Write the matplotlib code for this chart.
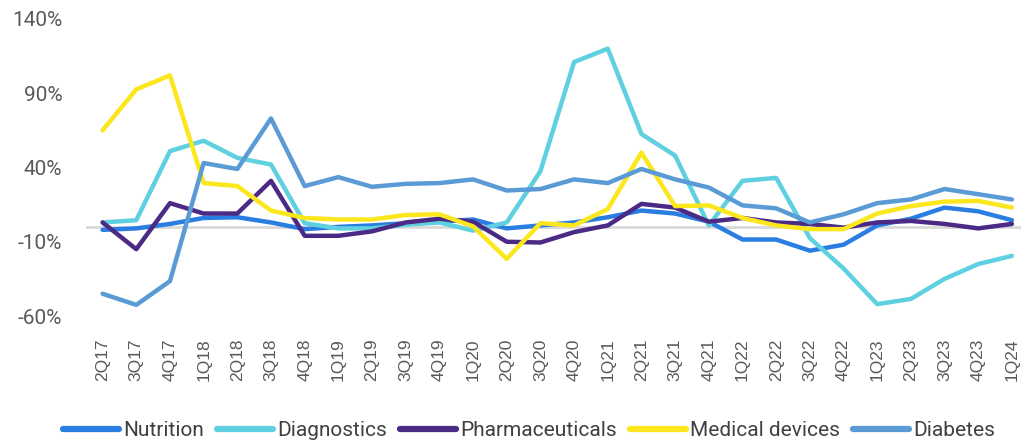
import numpy as np
import matplotlib
matplotlib.use("Agg")
import matplotlib.pyplot as plt

quarters = ['2Q17', '3Q17', '4Q17', '1Q18', '2Q18', '3Q18', '4Q18', '1Q19', '2Q19', '3Q19',
            '4Q19', '1Q20', '2Q20', '3Q20', '4Q20', '1Q21', '2Q21', '3Q21', '4Q21', '1Q22',
            '2Q22', '3Q22', '4Q22', '1Q23', '2Q23', '3Q23', '4Q23', '1Q24']

nutrition = [-2, -1, 2, 6, 6.5, 3, -1.5, 0, 1, 2.5, 3.5, 5, -1, 1, 3, 6.5, 11, 9, 3.5,
             -8.5, -8.5, -16, -12, 1, 5.5, 13, 10.5, 4.5]
diagnostics = [3, 4.5, 51, 58, 46.5, 42, 2.5, -1, -1, 1.5, 3, -2.5, 3, 37.5, 111, 120,
               62.5, 48, 1, 31, 33, -7.5, -28, -52, -48.5, -35, -25, -19.5]
pharmaceuticals = [3, -15, 16, 9, 9, 31, -6, -6, -3, 3, 5.5, 3.5, -10, -10.5, -3.5, 1,
                   15.5, 13, 3.5, 6, 3, 2, -0.5, 3, 4, 2, -1, 2]
medical_devices = [65, 92.6, 102, 29.5, 27.5, 11, 6, 5, 5, 8, 8.5, 0.3, -21.5, 2.5, 1,
                   12, 50, 14, 14.5, 6, 1, -1.5, -1.5, 9, 14, 17, 17.5, 13]
diabetes = [-45, -52.5, -36.5, 43, 39, 73, 27.5, 33.5, 27, 29, 29.5, 32, 24.5, 25.5, 32,
            29.5, 39, 32, 26.5, 14.5, 12.5, 3, 8.5, 16, 18.5, 25.5, 22, 18.5]

series = [
    ('Nutrition', nutrition, '#2a7de1'),
    ('Diagnostics', diagnostics, '#5fd0e0'),
    ('Pharmaceuticals', pharmaceuticals, '#4b2a86'),
    ('Medical devices', medical_devices, '#fbe71c'),
    ('Diabetes', diabetes, '#5b9bd5'),
]

plt.rcParams['font.family'] = ['Roboto', 'DejaVu Sans']

fig = plt.figure(figsize=(10.21, 4.41), dpi=100)
ax = fig.add_axes([0.084, 0.2834, 0.916, 0.6736])

x = np.arange(len(quarters))
ax.axhline(0, color='#d9d9d9', lw=2, zorder=1)
for name, vals, col in series:
    ax.plot(x, vals, color=col, lw=3.2, label=name, solid_capstyle='round',
            solid_joinstyle='round', zorder=2)

ax.set_xlim(-0.5, 27.27)
ax.set_ylim(-60, 140)
ax.set_yticks([-60, -10, 40, 90, 140])
ax.set_yticklabels([f'{v}%' for v in [-60, -10, 40, 90, 140]])
ax.set_xticks(x)
ax.set_xticklabels(quarters, rotation=90, family=['Liberation Sans', 'DejaVu Sans'])
ax.tick_params(axis='y', length=0, pad=17, labelsize=15, labelcolor='#595959')
ax.tick_params(axis='x', length=0, pad=16, labelsize=12.5, labelcolor='#595959')
for s in ax.spines.values():
    s.set_visible(False)

leg = ax.legend(loc='center', bbox_to_anchor=(0.474, -0.385), ncol=5, frameon=False,
                fontsize=15, handlelength=2.7, handletextpad=0.2, columnspacing=0.62,
                labelcolor='#404040')
for h in leg.get_lines():
    h.set_linewidth(4.5)
    h.set_solid_capstyle('round')

fig.savefig('out.png', dpi=100)
